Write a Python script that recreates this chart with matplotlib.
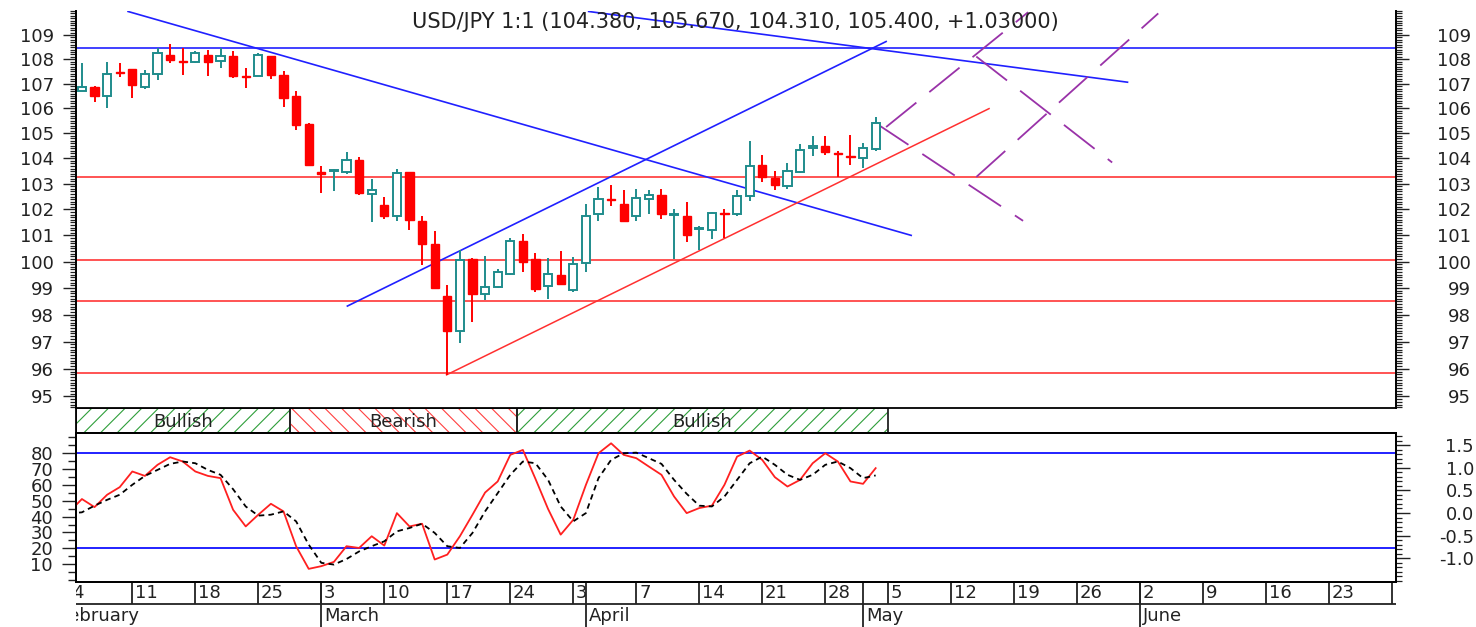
import matplotlib
matplotlib.use("Agg")
import matplotlib.pyplot as plt
import numpy as np
from matplotlib.patches import Rectangle

plt.rcParams['font.family'] = ['DejaVu Sans']
plt.rcParams['hatch.linewidth'] = 0.8
plt.rcParams['lines.scale_dashes'] = False

# x axis = trading day number, 0 = Mon 4 Feb 2008
day = np.arange(1, 65)
opens = [106.72, 106.86, 106.48, 107.47, 107.59, 106.88, 107.40, 108.17, 107.93, 107.90,
         108.17, 107.94, 108.13, 107.33, 107.32, 108.13, 107.36, 106.48, 105.38, 103.47,
         103.50, 103.48, 103.95, 102.62, 102.18, 101.76, 103.45, 101.57, 100.68, 98.69,
         97.38, 100.10, 98.78, 99.04, 99.54, 100.77, 100.10, 99.06, 99.48, 98.91,
         99.95, 101.81, 102.42, 102.22, 101.76, 102.41, 102.57, 101.79, 101.76, 101.23,
         101.19, 101.88, 101.81, 102.54, 103.75, 103.23, 102.92, 103.48, 104.41, 104.50,
         104.23, 104.10, 104.00, 104.38]
highs = [107.83, 106.90, 107.87, 107.83, 107.60, 107.56, 108.45, 108.62, 108.45, 108.35,
         108.38, 108.45, 108.35, 107.63, 108.25, 108.15, 107.50, 106.72, 105.42, 103.71,
         103.60, 104.24, 104.07, 103.19, 102.49, 103.58, 103.47, 101.73, 101.16, 99.10,
         100.45, 100.15, 100.22, 99.72, 100.91, 101.05, 100.32, 100.15, 100.42, 100.17,
         102.22, 102.87, 102.94, 102.74, 102.81, 102.74, 102.81, 102.00, 102.28, 101.38,
         101.92, 102.02, 102.74, 104.71, 104.14, 103.52, 103.83, 104.58, 104.90, 104.90,
         104.28, 104.94, 104.61, 105.67]
lows = [106.72, 106.27, 106.00, 107.26, 106.41, 106.80, 107.15, 107.86, 107.36, 107.83,
        107.32, 107.63, 107.22, 106.82, 107.30, 107.18, 106.05, 105.14, 103.74, 102.66,
        102.70, 103.40, 102.57, 101.50, 101.64, 101.57, 101.19, 99.86, 98.96, 95.76,
        96.93, 97.72, 98.54, 99.00, 99.50, 99.59, 98.83, 98.57, 99.14, 98.83,
        99.59, 101.57, 102.15, 101.55, 101.57, 101.81, 101.63, 100.10, 100.73, 100.45,
        100.86, 100.90, 101.74, 102.31, 103.06, 102.77, 102.81, 103.44, 104.10, 104.14,
        103.27, 103.75, 103.61, 104.31]
closes = [106.86, 106.48, 107.40, 107.43, 106.95, 107.40, 108.25, 107.97, 107.88, 108.25,
          107.90, 108.13, 107.32, 107.27, 108.17, 107.36, 106.41, 105.34, 103.75, 103.38,
          103.55, 103.95, 102.66, 102.74, 101.76, 103.42, 101.58, 100.68, 99.00, 97.41,
          100.07, 98.78, 99.04, 99.61, 100.77, 99.99, 98.96, 99.54, 99.16, 99.92,
          101.76, 102.41, 102.36, 101.57, 102.44, 102.57, 101.81, 101.83, 101.03, 101.27,
          101.86, 101.84, 102.54, 103.71, 103.27, 102.96, 103.49, 104.34, 104.50, 104.24,
          104.19, 104.06, 104.41, 105.40]

stoch_day = np.arange(0, 65)
stoch_k = [43.0, 51.1, 46.0, 53.8, 58.6, 68.5, 65.7, 72.7, 77.5, 74.8,
           68.5, 65.7, 64.3, 44.3, 33.8, 41.2, 48.1, 43.3, 21.3, 7.0,
           8.7, 11.4, 21.3, 20.2, 27.6, 21.7, 42.2, 33.8, 35.5, 12.9,
           16.0, 27.6, 41.2, 55.2, 62.2, 79.0, 82.1, 63.8, 44.8, 28.6,
           38.0, 60.0, 80.0, 86.3, 79.0, 76.9, 71.6, 66.4, 52.7, 42.2,
           45.4, 46.9, 60.1, 77.9, 81.7, 75.8, 64.9, 59.0, 63.2, 73.7,
           80.0, 74.8, 62.2, 60.7, 70.6]
stoch_d = [42.0, 42.7, 46.9, 50.6, 53.8, 60.1, 65.7, 69.5, 73.3, 74.8,
           73.7, 69.5, 66.4, 57.3, 46.4, 40.6, 41.2, 43.3, 37.0, 22.3,
           10.8, 9.7, 13.2, 18.0, 21.3, 24.4, 30.7, 32.8, 35.5, 29.7,
           21.3, 20.2, 29.7, 43.3, 54.8, 66.4, 74.8, 73.7, 63.2, 46.4,
           37.0, 42.2, 64.3, 75.8, 80.0, 80.4, 76.9, 73.3, 63.2, 54.4,
           46.9, 46.4, 52.7, 63.2, 73.7, 77.9, 72.7, 66.4, 63.2, 66.4,
           72.7, 74.8, 70.6, 64.3, 66.0]

red_levels = [103.25, 100.07, 98.50, 95.86]
blue_levels = [108.48]
# trendlines as (day0, price0, day1, price1)
blue_trends = [(4.66, 109.98, 66.82, 101.00),
               (22.07, 98.32, 64.83, 108.73),
               (41.22, 109.98, 83.99, 107.06)]
red_trends = [(29.94, 95.78, 73.00, 105.99)]
fan_trends = [(64.03, 105.40, 75.70, 101.56),
              (64.83, 105.25, 76.10, 109.95),
              (71.99, 103.27, 86.43, 109.90),
              (71.99, 108.11, 82.77, 103.84)]

signal_start = [0, 17.5, 35.5]
signal_end = [17.5, 35.5, 65]
signal_text = ['Bullish', 'Bearish', 'Bullish']

week_pos = np.arange(0, 106, 5)
week_lbl = ['4', '11', '18', '25', '3', '10', '17', '24', '31', '7', '14',
            '21', '28', '5', '12', '19', '26', '2', '9', '16', '23', '30']
month_pos = [-1, 20, 41, 63, 85]
month_lbl = ['February', 'March', 'April', 'May', 'June']

title = 'USD/JPY 1:1 (104.380, 105.670, 104.310, 105.400, +1.03000)'

# ---------------------------------------------------------------------------
W, H = 1476, 627
fig = plt.figure(figsize=(W / 100, H / 100), dpi=100)
X0, AW = 76 / W, 1320 / W


def panel(top, bot):
    return fig.add_axes([X0, 1 - bot / H, AW, (bot - top) / H])


ax = panel(11, 408)
ax_s = panel(408, 433)
ax_i = panel(433, 582)
ax_d = panel(582, 627)
XL = (0.53, 105.3)
TXT = '#222222'
TEAL = '#1f8c8c'
RED = '#ff0000'
PX = 0.72  # points per pixel

# ---- price panel ----
o, h, l, c = map(np.array, (opens, highs, lows, closes))
up = c >= o
ax.vlines(day, l, h, colors=np.where(up, TEAL, RED), lw=1.4, zorder=3)
ax.bar(day[up], c[up] - o[up], bottom=o[up], width=0.66, facecolor='white',
       edgecolor=TEAL, lw=1.4, zorder=4)
ax.bar(day[~up], o[~up] - c[~up], bottom=c[~up], width=0.66, facecolor=RED,
       edgecolor=RED, lw=1.0, zorder=4)

for v in red_levels:
    ax.axhline(v, color='#ff4545', lw=1.3, zorder=2)
for v in blue_levels:
    ax.axhline(v, color='#2020ff', lw=1.2, zorder=2)
for x0, y0, x1, y1 in blue_trends:
    ax.plot([x0, x1], [y0, y1], color='#2020ff', lw=1.2, zorder=2)
for x0, y0, x1, y1 in red_trends:
    ax.plot([x0, x1], [y0, y1], color='#ff3030', lw=1.1, zorder=2)
for x0, y0, x1, y1 in fan_trends:
    ax.plot([x0, x1], [y0, y1], color='#9932a8', lw=1.3, ls=(0, (28, 12)), zorder=2)

ylim_p = (94.58, 109.98)
majors = np.arange(95, 110)
ax_r = ax.twinx()
for a in (ax, ax_r):
    a.set_yscale('log')
    a.set_ylim(ylim_p)
    a.set_yticks(majors, [str(v) for v in majors])
    a.set_yticks(np.arange(94.6, 110.0, 0.1), minor=True)
    a.yaxis.set_minor_formatter(plt.NullFormatter())
    a.tick_params(axis='y', which='major', length=13 * PX, width=1.0,
                  labelsize=13, labelcolor=TXT, color=TXT)
    a.tick_params(axis='y', which='minor', length=6 * PX, width=0.9, color=TXT)
    for s in ('top', 'bottom'):
        a.spines[s].set_visible(False)
ax.set_xlim(XL)
ax.set_xticks([])
ax.spines['right'].set_visible(False)
ax.spines['left'].set_linewidth(1.4)
ax.tick_params(axis='y', which='major', pad=9 * PX)
ax_r.spines['left'].set_visible(False)
ax_r.spines['right'].set_linewidth(1.4)
ax_r.tick_params(axis='y', which='major', pad=62 * PX)
plt.setp(ax_r.get_yticklabels(), ha='right')

fig.text(735 / W, 1 - 22 / H, title, ha='center', va='center',
         fontsize=15, color=TXT)

# ---- signal strip ----
ax_s.set_xlim(XL)
ax_s.set_ylim(0, 1)
ax_s.set_xticks([])
ax_s.set_yticks([])
ax_s.spines['right'].set_visible(False)
for s in ('left', 'top', 'bottom'):
    ax_s.spines[s].set_linewidth(1.3)
for s0, s1, t in zip(signal_start, signal_end, signal_text):
    s0 = max(s0, XL[0])
    col, hat = ('#2f9e3a', '//') if t == 'Bullish' else ('#ff4040', '\\\\')
    ax_s.add_patch(Rectangle((s0, 0), s1 - s0, 1, facecolor='none',
                             edgecolor=col, hatch=hat, lw=0))
    ax_s.add_patch(Rectangle((s0, 0), s1 - s0, 1, fill=False,
                             edgecolor=TXT, lw=1.3))
    ax_s.text((s0 + s1) / 2, 0.45, t, ha='center', va='center',
              fontsize=13, color=TXT)

# ---- stochastic panel ----
ax_i.plot(stoch_day, stoch_k, color='#ff2020', lw=1.3, zorder=3)
ax_i.plot(stoch_day, stoch_d, color='black', lw=1.3, ls=(0, (4, 3)), zorder=3)
ax_i.axhline(80, color='#1010ff', lw=1.3)
ax_i.axhline(20, color='#1010ff', lw=1.3)
ax_i.set_xlim(XL)
ax_i.set_xticks([])
ax_i.set_ylim(-1.3, 92.8)
ax_i.set_yticks(range(10, 90, 10), [str(v) for v in range(10, 90, 10)])
ax_i.set_yticks(np.arange(0, 95, 5), minor=True)
ax_i.tick_params(axis='y', which='major', length=14 * PX, width=1.0, pad=9 * PX,
                 labelsize=13, labelcolor=TXT, color=TXT)
ax_i.tick_params(axis='y', which='minor', length=8 * PX, width=1.0, color=TXT)
for s in ax_i.spines.values():
    s.set_linewidth(1.3)

ax_i2 = ax_i.twinx()
ax_i2.set_ylim(-1.527, 1.77)
rt = [-1.0, -0.5, 0.0, 0.5, 1.0, 1.5]
ax_i2.set_yticks(rt, ['%.1f' % v for v in rt])
ax_i2.set_yticks(np.arange(-1.5, 1.75, 0.1), minor=True)
ax_i2.tick_params(axis='y', which='major', length=14 * PX, width=1.0, pad=64 * PX,
                  labelsize=13, labelcolor=TXT, color=TXT)
ax_i2.tick_params(axis='y', which='minor', length=6 * PX, width=0.9, color=TXT)
plt.setp(ax_i2.get_yticklabels(), ha='right')
for s in ax_i2.spines.values():
    s.set_linewidth(1.3)

# ---- date rows ----
ax_d.set_xlim(XL)
ax_d.set_ylim(45, 0)
ax_d.axis('off')
ax_d.axhline(22, color=TXT, lw=1.3)
ax_d.vlines(week_pos, 0, 22, color=TXT, lw=1.3)
ax_d.vlines(month_pos, 0, 45, color=TXT, lw=1.3)
bounds = sorted(set(week_pos.tolist()) | set(month_pos))


def clipped_label(p, y0, y1, t, nexts):
    nxt = min([b for b in nexts if b > p] + [XL[1]])
    a0, a1 = max(p, XL[0]), min(nxt, XL[1])
    txt = ax_d.text(p + 0.22, (y0 + y1) / 2 + 0.5, t, ha='left', va='center',
                    fontsize=13, color=TXT, clip_on=True)
    txt.set_clip_path(Rectangle((a0, y0), a1 - a0, y1 - y0,
                                transform=ax_d.transData))


for p, t in zip(week_pos, week_lbl):
    clipped_label(p, 0, 22, t, bounds)
for p, t in zip(month_pos, month_lbl):
    clipped_label(p, 22, 45, t, month_pos)

fig.savefig('out.png', dpi=100, facecolor='white')
